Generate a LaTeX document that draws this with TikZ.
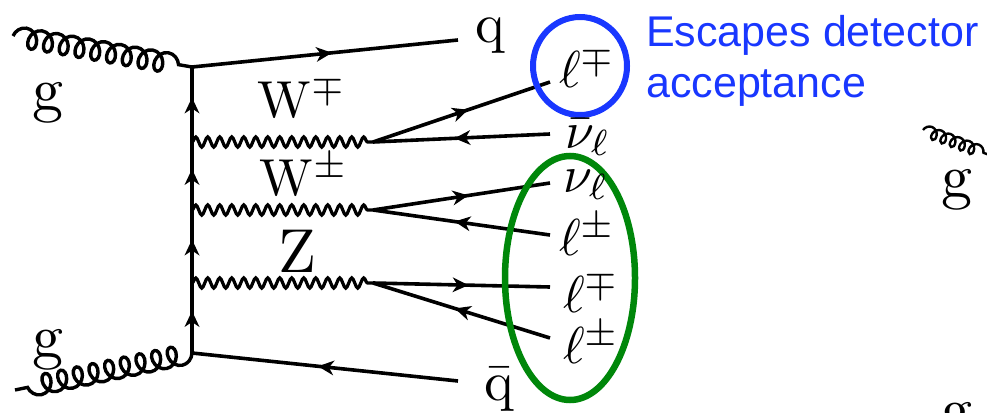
\documentclass[tikz,border=0pt]{standalone}
\usepackage{fontspec}
\newfontfamily\helv{Liberation Sans}
\usetikzlibrary{decorations.pathmorphing,decorations.markings,arrows.meta}
\definecolor{escblue}{RGB}{25,55,255}
\definecolor{accgreen}{RGB}{0,135,10}
\begin{document}
\begin{tikzpicture}[x=1pt,y=-1pt,
  fermion/.style={line width=3.6pt, postaction={decorate},
    decoration={markings, mark=at position #1 with {\fill (7pt,0pt) -- (-9pt,7.5pt) -- (-4pt,0pt) -- (-9pt,-7.5pt) -- cycle;}}},
  fermion/.default=0.5,
  boson/.style={line width=3.2pt, decorate, decoration={snake, amplitude=5pt, segment length=12pt, post length=1pt}},
  gluon/.style={line width=3.4pt, decorate, decoration={coil, amplitude=10pt, segment length=16pt, aspect=0.8}},
  smallgluon/.style={line width=2.4pt, decorate, decoration={coil, amplitude=6pt, segment length=10pt, aspect=0.8}},
  lbl/.style={inner sep=0pt, scale=5.2},
  gl/.style={inner sep=0pt, scale=6.2},
  ql/.style={inner sep=0pt, scale=5.6},
  esc/.style={inner sep=0pt, anchor=base west, text=escblue, font=\helv\fontsize{43}{50}\selectfont}
]
\useasboundingbox (0,0) rectangle (987,412);
\clip (0,0) rectangle (987,412);

% vertices
\coordinate (v1) at (192,67);
\coordinate (a) at (192,142);
\coordinate (b) at (192,210);
\coordinate (c) at (192,283);
\coordinate (v4) at (192,353);
\coordinate (wa) at (373,142);
\coordinate (wb) at (373,210);
\coordinate (wc) at (373,283);
\coordinate (g1s) at (13,36);
\coordinate (g2s) at (15,390);
\coordinate (qend) at (458,40);
\coordinate (qbend) at (458,381);
\coordinate (e1) at (550,82);
\coordinate (e2) at (550,134);
\coordinate (e3) at (550,183);
\coordinate (e4) at (550,235);
\coordinate (e5) at (550,287);
\coordinate (e6) at (550,338);
\coordinate (rgs) at (923,130);
\coordinate (rge) at (992,156);

% gluons
\draw[gluon] (g1s) -- (v1);
\draw[gluon] (v4) -- (g2s);
\draw[smallgluon] (rgs) -- (rge);

% quark lines
\draw[fermion] (v1) -- (qend);
\draw[fermion] (qbend) -- (v4);
\draw[fermion] (v4) -- (c);
\draw[fermion] (c) -- (b);
\draw[fermion] (b) -- (a);
\draw[fermion] (a) -- (v1);

% bosons
\draw[boson] (a) -- (wa);
\draw[boson] (b) -- (wb);
\draw[boson] (c) -- (wc);

% leptons
\draw[fermion] (wa) -- (e1);
\draw[fermion] (e2) -- (wa);
\draw[fermion] (wb) -- (e3);
\draw[fermion] (e4) -- (wb);
\draw[fermion] (wc) -- (e5);
\draw[fermion] (e6) -- (wc);

% acceptance markers
\draw[escblue, line width=6pt] (580,66) ellipse [x radius=47pt, y radius=49pt];
\draw[accgreen, line width=6.5pt] (570,278) ellipse [x radius=65pt, y radius=122pt];

% labels
\node[gl, anchor=base] (lg1) at (48,110) {g};
\node[gl, anchor=base] (lg2) at (48,357) {g};
\node[ql, anchor=base] (lq) at (490,43) {q};
\node[ql, anchor=base] (lqb) at (499,400) {$\bar{\mathrm{q}}$};
\node[lbl, anchor=base] (lWa) at (302,117) {$\mathrm{W}^{\mp}$};
\node[lbl, anchor=base] (lWb) at (304,195) {$\mathrm{W}^{\pm}$};
\node[gl, anchor=base] (lZ) at (297,272) {Z};
\node[lbl, anchor=base west] (l1) at (558,88) {$\ell^{\mp}$};
\node[lbl, anchor=base west] (l2) at (564,148) {$\bar{\nu}_{\ell}$};
\node[lbl, anchor=base west] (l3) at (562,192) {$\nu_{\ell}$};
\node[lbl, anchor=base west] (l4) at (558,255) {$\ell^{\pm}$};
\node[lbl, anchor=base west] (l5) at (562,312) {$\ell^{\mp}$};
\node[lbl, anchor=base west] (l6) at (562,363) {$\ell^{\pm}$};
\node[gl, anchor=base] (rg1) at (957,197) {g};
\node[gl, anchor=base] (rg2) at (957,430) {g};

\node[esc] (t1) at (646,47) {Escapes detector};
\node[esc] (t2) at (646,97) {acceptance};
\end{tikzpicture}
\end{document}
